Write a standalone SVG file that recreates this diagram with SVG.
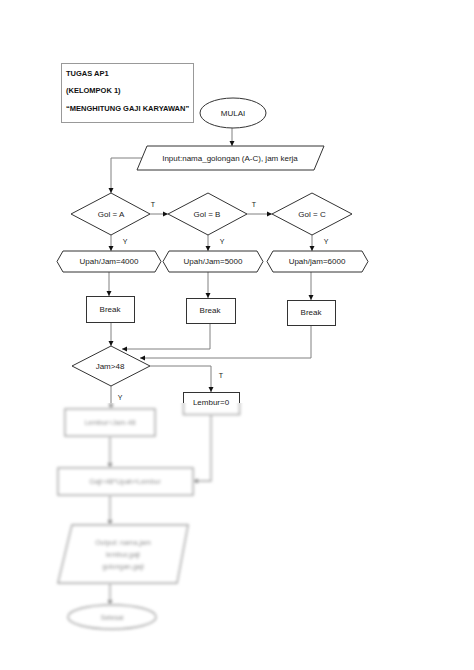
<svg xmlns="http://www.w3.org/2000/svg" width="474" height="670" viewBox="0 0 474 670">
<style>
text{font-family:"Liberation Sans",Arial,sans-serif;font-size:8px;fill:#222;text-anchor:middle}
.t{font-weight:bold;font-size:7.5px;text-anchor:start;fill:#111}
.s{fill:#fff;stroke:#333;stroke-width:1}
.c{fill:none;stroke:#808080;stroke-width:1}
.ca{fill:none;stroke:#808080;stroke-width:1;marker-end:url(#ah)}
.l{font-size:7px}
.b{fill:#fff;stroke:#9a9a9a;stroke-width:1.4}
.bc{fill:none;stroke:#a5a5a5;stroke-width:1.4;marker-end:url(#ahb)}
.bt{fill:#8a8a8a;font-size:7px}
</style>
<defs>
<marker id="ah" markerWidth="6" markerHeight="6" refX="5" refY="3" orient="auto" markerUnits="userSpaceOnUse"><path d="M0,0.5 L5,3 L0,5.5 Z" fill="#111"/></marker>
<marker id="ahb" markerWidth="6" markerHeight="6" refX="5" refY="3" orient="auto" markerUnits="userSpaceOnUse"><path d="M0,0.5 L5,3 L0,5.5 Z" fill="#888"/></marker>
<filter id="blur" x="-20%" y="-20%" width="140%" height="140%"><feGaussianBlur stdDeviation="1.7"/></filter>
<clipPath id="top"><rect x="0" y="0" width="474" height="403"/></clipPath>
<clipPath id="bot"><rect x="0" y="403" width="474" height="267"/></clipPath>
</defs>
<rect width="474" height="670" fill="#fff"/>

<g id="title">
<rect x="61.5" y="63.5" width="132" height="59" fill="#fff" stroke="#999"/>
<text class="t" x="66" y="76">TUGAS AP1</text>
<text class="t" x="66" y="93">(KELOMPOK 1)</text>
<text class="t" x="66" y="111">“MENGHITUNG GAJI KARYAWAN”</text>
</g>

<g id="connectors">
<path class="ca" d="M232,128 V146"/>
<path class="ca" d="M142,158 H111 V193"/>
<path class="ca" d="M150,214 H168"/>
<path class="ca" d="M247,214 H272"/>
<path class="ca" d="M111,235 V251"/>
<path class="ca" d="M208,235 V251"/>
<path class="ca" d="M312,235 V251"/>
<path class="ca" d="M109,272 V296"/>
<path class="ca" d="M208,272 V298"/>
<path class="ca" d="M311,272 V300"/>
<path class="ca" d="M111,322 V346"/>
<path class="ca" d="M210,323 V349 H122"/>
<path class="ca" d="M311,325 V358 H140"/>
<path class="ca" d="M150,366 H211 V392"/>
<path class="c" d="M111,386 V403"/>
<text class="l" x="153" y="207">T</text>
<text class="l" x="254" y="207">T</text>
<text class="l" x="125" y="244">Y</text>
<text class="l" x="222" y="244">Y</text>
<text class="l" x="326" y="244">Y</text>
<text class="l" x="221" y="378">T</text>
<text class="l" x="120" y="400">Y</text>
<g clip-path="url(#bot)"><g filter="url(#blur)">
<path class="bc" d="M111,386 V409"/>
<path class="bc" d="M110,436 V468"/>
<path class="bc" d="M211,414 V481 H193"/>
<path class="bc" d="M110,495 V525"/>
<path class="bc" d="M110,583 V605"/>
</g></g>
</g>

<g id="mulai">
<ellipse class="s" cx="233" cy="113" rx="33" ry="15"/>
<text x="233" y="116">MULAI</text>
</g>
<g id="input">
<polygon class="s" points="147,146 324,146 314,170 137,170"/>
<text x="230" y="161">Input:nama_golongan (A-C), jam kerja</text>
</g>
<g id="golA">
<polygon class="s" points="71,214 111,193 150,214 111,235"/>
<text x="111" y="217">Gol = A</text>
</g>
<g id="golB">
<polygon class="s" points="168,214 208,193 247,214 208,235"/>
<text x="207" y="217">Gol = B</text>
</g>
<g id="golC">
<polygon class="s" points="272,214 312,193 352,214 312,235"/>
<text x="312" y="217">Gol = C</text>
</g>
<g id="upahA">
<polygon class="s" points="57,261.5 63,251 155,251 161,261.5 155,272 63,272"/>
<text x="109" y="264">Upah/Jam=4000</text>
</g>
<g id="upahB">
<polygon class="s" points="163,261.5 169,251 257,251 263,261.5 257,272 169,272"/>
<text x="213" y="264">Upah/Jam=5000</text>
</g>
<g id="upahC">
<polygon class="s" points="267,261.5 273,251 362,251 368,261.5 362,272 273,272"/>
<text x="317" y="264">Upah/jam=6000</text>
</g>
<g id="breakA">
<rect class="s" x="86.5" y="296.5" width="48" height="26"/>
<text x="110" y="312">Break</text>
</g>
<g id="breakB">
<rect class="s" x="186.5" y="298.5" width="49" height="25"/>
<text x="210" y="313">Break</text>
</g>
<g id="breakC">
<rect class="s" x="287.5" y="300.5" width="48" height="25"/>
<text x="311" y="315">Break</text>
</g>
<g id="jam">
<polygon class="s" points="72,366 111,346 150,366 111,386"/>
<text x="110" y="369">Jam&gt;48</text>
</g>
<g id="lembur0">
<g clip-path="url(#top)">
<rect class="s" x="183.5" y="392.5" width="56" height="22"/>
</g>
<g clip-path="url(#bot)"><g filter="url(#blur)">
<rect class="b" x="183.5" y="392.5" width="56" height="22"/>
</g></g>
<text x="211" y="405">Lembur=0</text>
</g>
<g id="lemburJam" filter="url(#blur)">
<rect class="b" x="65" y="409" width="90" height="27"/>
<text class="bt" x="110" y="425">Lembur=Jam-48</text>
</g>
<g id="gaji" filter="url(#blur)">
<rect class="b" x="58" y="468" width="135" height="27"/>
<text class="bt" x="125" y="484">Gaji=48*Upah+Lembur</text>
</g>
<g id="output" filter="url(#blur)">
<polygon class="b" points="72,525 188,525 177,583 58,583"/>
<text class="bt" x="123" y="545">Output: nama,jam</text>
<text class="bt" x="123" y="557">lembur,gaji</text>
<text class="bt" x="123" y="569">golongan,gaji</text>
</g>
<g id="selesai" filter="url(#blur)">
<ellipse class="b" cx="112" cy="617" rx="44" ry="12"/>
<text class="bt" x="112" y="620">Selesai</text>
</g>
</svg>
